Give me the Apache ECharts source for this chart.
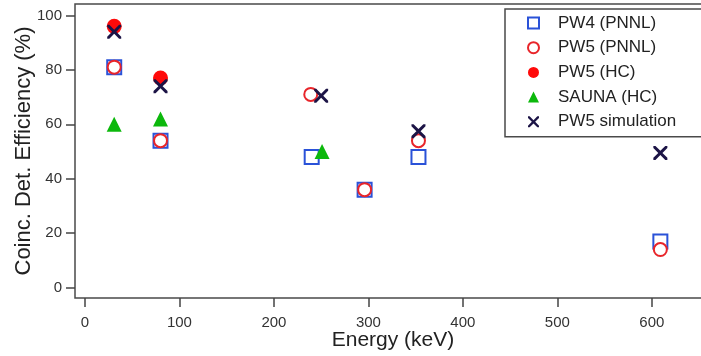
<!DOCTYPE html>
<html>
<head>
<meta charset="utf-8">
<script src="https://cdn.jsdelivr.net/npm/echarts@6/dist/echarts.min.js"></script>
<style>
  html, body { margin: 0; padding: 0; background: #fff; }
  #chart { width: 701px; height: 356px; }
</style>
</head>
<body>
<div id="chart"></div>
<script>
// values
const pw4Energy = [31, 80, 240, 296, 353, 609];
const pw4Eff = [81, 54, 48, 36, 48, 17];
const pw5PnnlEnergy = [31, 80, 239, 296, 353, 609];
const pw5PnnlEff = [81, 54, 71, 36, 54, 14];
const pw5HcEnergy = [31, 80];
const pw5HcEff = [96, 77];
const saunaEnergy = [31, 80, 251];
const saunaEff = [60, 62, 50];
const simEnergy = [31, 80, 250, 353, 609];
const simEff = [94, 74, 70.5, 57.5, 49.5];

const xTicks = [0, 100, 200, 300, 400, 500, 600];
const yTicks = [0, 20, 40, 60, 80, 100];

const FONT = "Liberation Sans, Arial, sans-serif";
const crossPath = "path://M0,0 L3,0 L10,7 L17,0 L20,0 L20,3 L13,10 L20,17 L20,20 L17,20 L10,13 L3,20 L0,20 L0,17 L7,10 L0,3 Z";

const pairs = (xs, ys) => xs.map((x, i) => [x, ys[i]]);

const chart = echarts.init(document.getElementById("chart"));

chart.setOption({
  backgroundColor: "#fff",
  animation: false,
  textStyle: { fontFamily: FONT },
  grid: {
    left: 75, top: 4, width: 643, bottom: 58,
    outerBoundsMode: "none",
    show: true, borderColor: "#4a4a4a", borderWidth: 1.5, backgroundColor: "transparent"
  },
  legend: {
    orient: "vertical",
    left: 505, top: 9,
    padding: [4, 60, 5, 22],
    itemWidth: 11, itemHeight: 11, itemGap: 4.7,
    backgroundColor: "#fff",
    borderColor: "#4a4a4a", borderWidth: 1.5, borderRadius: 0,
    textStyle: { fontFamily: FONT, fontSize: 17, color: "#222", lineHeight: 20, padding: [0, 0, 0, 14] },
    data: ["PW4 (PNNL)", "PW5 (PNNL)", "PW5 (HC)", "SAUNA (HC)", "PW5 simulation"]
  },
  xAxis: {
    type: "value",
    min: -10.5, max: 670,
    name: "Energy (keV)",
    nameLocation: "middle", nameGap: 32, nameMoveOverlap: false,
    nameTextStyle: { fontFamily: FONT, fontSize: 21, color: "#222", padding: [0, 7, 0, 0] },
    axisLine: { show: false, onZero: false },
    axisTick: { show: true, length: 9, lineStyle: { color: "#444", width: 1.5 }, customValues: xTicks },
    axisLabel: { fontFamily: FONT, fontSize: 15, color: "#333", margin: 17, customValues: xTicks },
    splitLine: { show: false }
  },
  yAxis: {
    type: "value",
    min: -3.8, max: 104.2,
    name: "Coinc. Det. Efficiency (%)",
    nameLocation: "middle", nameGap: 40, nameMoveOverlap: false,
    nameTextStyle: { fontFamily: FONT, fontSize: 22, color: "#222" },
    axisLine: { show: false, onZero: false },
    axisTick: { show: true, length: 9, lineStyle: { color: "#444", width: 1.5 }, customValues: yTicks },
    axisLabel: { fontFamily: FONT, fontSize: 15, color: "#333", margin: 13, customValues: yTicks },
    splitLine: { show: false }
  },
  series: [
    {
      name: "PW4 (PNNL)", type: "scatter", symbol: "rect", symbolSize: 14,
      itemStyle: { color: "rgba(255,255,255,0)", borderColor: "#2a52d8", borderWidth: 2, opacity: 1 },
      data: pairs(pw4Energy, pw4Eff)
    },
    {
      name: "PW5 (PNNL)", type: "scatter", symbol: "circle", symbolSize: 13,
      itemStyle: { color: "#fff", borderColor: "#e8252a", borderWidth: 2, opacity: 1 },
      data: pairs(pw5PnnlEnergy, pw5PnnlEff)
    },
    {
      name: "PW5 (HC)", type: "scatter", symbol: "circle", symbolSize: 15,
      itemStyle: { color: "#ff0a0a", opacity: 1 },
      data: pairs(pw5HcEnergy, pw5HcEff)
    },
    {
      name: "SAUNA (HC)", type: "scatter", symbol: "triangle", symbolSize: 15,
      itemStyle: { color: "#0cb80c", opacity: 1 },
      data: pairs(saunaEnergy, saunaEff)
    },
    {
      name: "PW5 simulation", type: "scatter", symbol: crossPath, symbolSize: 14,
      itemStyle: { color: "#1c1446", opacity: 1 },
      data: pairs(simEnergy, simEff)
    }
  ]
});
</script>
</body>
</html>
